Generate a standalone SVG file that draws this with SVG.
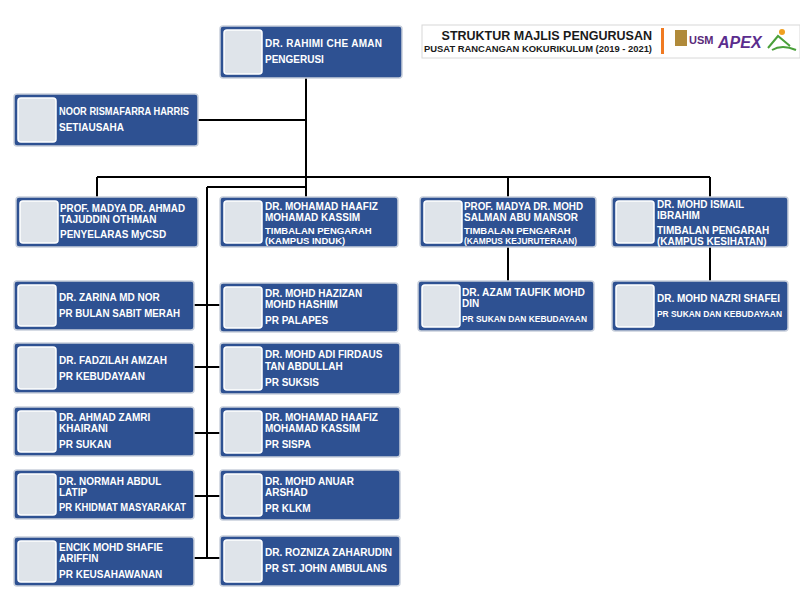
<svg xmlns="http://www.w3.org/2000/svg" width="800" height="612" viewBox="0 0 800 612">
<style>
.b{fill:#2e5192;stroke:#c9d0dc;stroke-width:1.5}
.p{fill:#dfe4ea;stroke:#ffffff;stroke-width:1.5}
.t{font-family:"Liberation Sans",Arial,sans-serif;font-weight:bold;font-size:10px;fill:#ffffff}
.r{font-size:9.5px}
.c{stroke:#000;stroke-width:2;fill:none}
</style>
<rect width="800" height="612" fill="#ffffff"/>
<g id="header">
<rect x="422" y="25" width="378" height="33" fill="#fff" stroke="#d8d8d8"/>
<text x="652" y="40" text-anchor="end" font-family="Liberation Sans,Arial,sans-serif" font-weight="bold" font-size="12.5" fill="#1a1a1a">STRUKTUR MAJLIS PENGURUSAN</text>
<text x="652" y="52" text-anchor="end" font-family="Liberation Sans,Arial,sans-serif" font-weight="bold" font-size="9.5" fill="#1a1a1a" textLength="228" lengthAdjust="spacingAndGlyphs">PUSAT RANCANGAN KOKURIKULUM (2019 - 2021)</text>
<rect x="661" y="28" width="3" height="26" fill="#f07a22"/>
<rect x="675" y="30" width="12" height="16" fill="#b08a3a"/>
<text x="689" y="44" font-family="Liberation Sans,Arial,sans-serif" font-weight="bold" font-size="11" fill="#5a2a7a">USM</text>
<text x="718" y="48" font-family="Liberation Sans,Arial,sans-serif" font-weight="bold" font-style="italic" font-size="16" fill="#5b2d8e">APEX</text>
<circle cx="782" cy="32" r="3" fill="#f0a020"/>
<path d="M768 48 L778 36 L790 46 M772 50 Q782 44 796 50" stroke="#4aa03a" stroke-width="2" fill="none"/>
</g>
<g id="connectors" class="c">
<path d="M306 78 V177 M198 120 H306 M97 177 H710 M97 177 V197 M306 177 V197 M508 177 V197 M710 177 V197 M207 187 H306 M207 187 V558 M508 247 V281 M710 247 V281 M194 305 H220 M194 367 H220 M194 433 H220 M194 496 H220 M194 558 H220"/>
</g>
<g id="n-chair"><rect class="b" x="220" y="26" width="182" height="52" rx="3"/><rect class="p" x="224" y="30" width="38" height="44" rx="3"/>
<text class="t" x="265" y="47" textLength="117">DR. RAHIMI CHE AMAN</text><text class="t" x="265" y="63">PENGERUSI</text></g>
<g id="n-sec"><rect class="b" x="14" y="94" width="184" height="52" rx="3"/><rect class="p" x="18" y="98" width="38" height="44" rx="3"/>
<text class="t" x="59" y="115" textLength="130" lengthAdjust="spacingAndGlyphs">NOOR RISMAFARRA HARRIS</text><text class="t" x="59" y="131">SETIAUSAHA</text></g>
<g id="n-mycsd"><rect class="b" x="16" y="197" width="182" height="50" rx="3"/><rect class="p" x="20" y="201" width="38" height="42" rx="3"/>
<text class="t" x="60" y="212" textLength="125" lengthAdjust="spacingAndGlyphs">PROF. MADYA DR. AHMAD</text><text class="t" x="60" y="223">TAJUDDIN OTHMAN</text><text class="t" x="60" y="238">PENYELARAS MyCSD</text></g>
<g id="n-induk"><rect class="b" x="220" y="197" width="178" height="50" rx="3"/><rect class="p" x="224" y="201" width="38" height="42" rx="3"/>
<text class="t" x="265" y="210">DR. MOHAMAD HAAFIZ</text><text class="t" x="265" y="221">MOHAMAD KASSIM</text><text class="t r" x="265" y="234">TIMBALAN PENGARAH</text><text class="t r" x="265" y="244">(KAMPUS INDUK)</text></g>
<g id="n-kej"><rect class="b" x="420" y="197" width="176" height="50" rx="3"/><rect class="p" x="424" y="201" width="38" height="42" rx="3"/>
<text class="t" x="464" y="210" textLength="119" lengthAdjust="spacingAndGlyphs">PROF. MADYA DR. MOHD</text><text class="t" x="464" y="221">SALMAN ABU MANSOR</text><text class="t r" x="464" y="234">TIMBALAN PENGARAH</text><text class="t r" x="464" y="244" textLength="113" lengthAdjust="spacingAndGlyphs">(KAMPUS KEJURUTERAAN)</text></g>
<g id="n-kes"><rect class="b" x="612" y="197" width="176" height="50" rx="3"/><rect class="p" x="616" y="201" width="38" height="42" rx="3"/>
<text class="t" x="657" y="208">DR. MOHD ISMAIL</text><text class="t" x="657" y="219">IBRAHIM</text><text class="t" x="657" y="234">TIMBALAN PENGARAH</text><text class="t" x="657" y="245">(KAMPUS KESIHATAN)</text></g>
<g id="n-azam"><rect class="b" x="418" y="281" width="176" height="50" rx="3"/><rect class="p" x="422" y="285" width="38" height="42" rx="3"/>
<text class="t" x="462" y="296" textLength="123" lengthAdjust="spacingAndGlyphs">DR. AZAM TAUFIK MOHD</text><text class="t" x="462" y="307">DIN</text><text class="t r" x="462" y="322" textLength="125" lengthAdjust="spacingAndGlyphs">PR SUKAN DAN KEBUDAYAAN</text></g>
<g id="n-nazri"><rect class="b" x="612" y="281" width="176" height="50" rx="3"/><rect class="p" x="616" y="285" width="38" height="42" rx="3"/>
<text class="t" x="657" y="302" textLength="123" lengthAdjust="spacingAndGlyphs">DR. MOHD NAZRI SHAFEI</text><text class="t r" x="657" y="317" textLength="125" lengthAdjust="spacingAndGlyphs">PR SUKAN DAN KEBUDAYAAN</text></g>
<g id="n-zarina"><rect class="b" x="14" y="281" width="180" height="49" rx="3"/><rect class="p" x="18" y="285" width="38" height="41" rx="3"/>
<text class="t" x="59" y="301">DR. ZARINA MD NOR</text><text class="t" x="59" y="317" textLength="121" lengthAdjust="spacingAndGlyphs">PR BULAN SABIT MERAH</text></g>
<g id="n-fadzilah"><rect class="b" x="14" y="343" width="180" height="50" rx="3"/><rect class="p" x="18" y="347" width="38" height="42" rx="3"/>
<text class="t" x="59" y="364">DR. FADZILAH AMZAH</text><text class="t" x="59" y="380">PR KEBUDAYAAN</text></g>
<g id="n-zamri"><rect class="b" x="14" y="407" width="180" height="49" rx="3"/><rect class="p" x="18" y="411" width="38" height="41" rx="3"/>
<text class="t" x="59" y="421">DR. AHMAD ZAMRI</text><text class="t" x="59" y="432">KHAIRANI</text><text class="t" x="59" y="448">PR SUKAN</text></g>
<g id="n-normah"><rect class="b" x="14" y="470" width="180" height="49" rx="3"/><rect class="p" x="18" y="474" width="38" height="41" rx="3"/>
<text class="t" x="59" y="485">DR. NORMAH ABDUL</text><text class="t" x="59" y="496">LATIP</text><text class="t" x="59" y="511" textLength="127" lengthAdjust="spacingAndGlyphs">PR KHIDMAT MASYARAKAT</text></g>
<g id="n-shafie"><rect class="b" x="14" y="537" width="180" height="49" rx="3"/><rect class="p" x="18" y="541" width="38" height="41" rx="3"/>
<text class="t" x="59" y="551">ENCIK MOHD SHAFIE</text><text class="t" x="59" y="562">ARIFFIN</text><text class="t" x="59" y="578">PR KEUSAHAWANAN</text></g>
<g id="n-hazizan"><rect class="b" x="220" y="283" width="178" height="49" rx="3"/><rect class="p" x="224" y="287" width="38" height="41" rx="3"/>
<text class="t" x="265" y="297">DR. MOHD HAZIZAN</text><text class="t" x="265" y="308">MOHD HASHIM</text><text class="t" x="265" y="324">PR PALAPES</text></g>
<g id="n-adi"><rect class="b" x="220" y="343" width="180" height="51" rx="3"/><rect class="p" x="224" y="347" width="38" height="43" rx="3"/>
<text class="t" x="265" y="358">DR. MOHD ADI FIRDAUS</text><text class="t" x="265" y="370">TAN ABDULLAH</text><text class="t" x="265" y="386">PR SUKSIS</text></g>
<g id="n-sispa"><rect class="b" x="220" y="407" width="180" height="50" rx="3"/><rect class="p" x="224" y="411" width="38" height="42" rx="3"/>
<text class="t" x="265" y="421">DR. MOHAMAD HAAFIZ</text><text class="t" x="265" y="432">MOHAMAD KASSIM</text><text class="t" x="265" y="448">PR SISPA</text></g>
<g id="n-anuar"><rect class="b" x="220" y="470" width="180" height="50" rx="3"/><rect class="p" x="224" y="474" width="38" height="42" rx="3"/>
<text class="t" x="265" y="485">DR. MOHD ANUAR</text><text class="t" x="265" y="496">ARSHAD</text><text class="t" x="265" y="512">PR KLKM</text></g>
<g id="n-rozniza"><rect class="b" x="220" y="536" width="180" height="50" rx="3"/><rect class="p" x="224" y="540" width="38" height="42" rx="3"/>
<text class="t" x="265" y="556" textLength="127" lengthAdjust="spacingAndGlyphs">DR. ROZNIZA ZAHARUDIN</text><text class="t" x="265" y="572" textLength="122" lengthAdjust="spacingAndGlyphs">PR ST. JOHN AMBULANS</text></g>
</svg>
